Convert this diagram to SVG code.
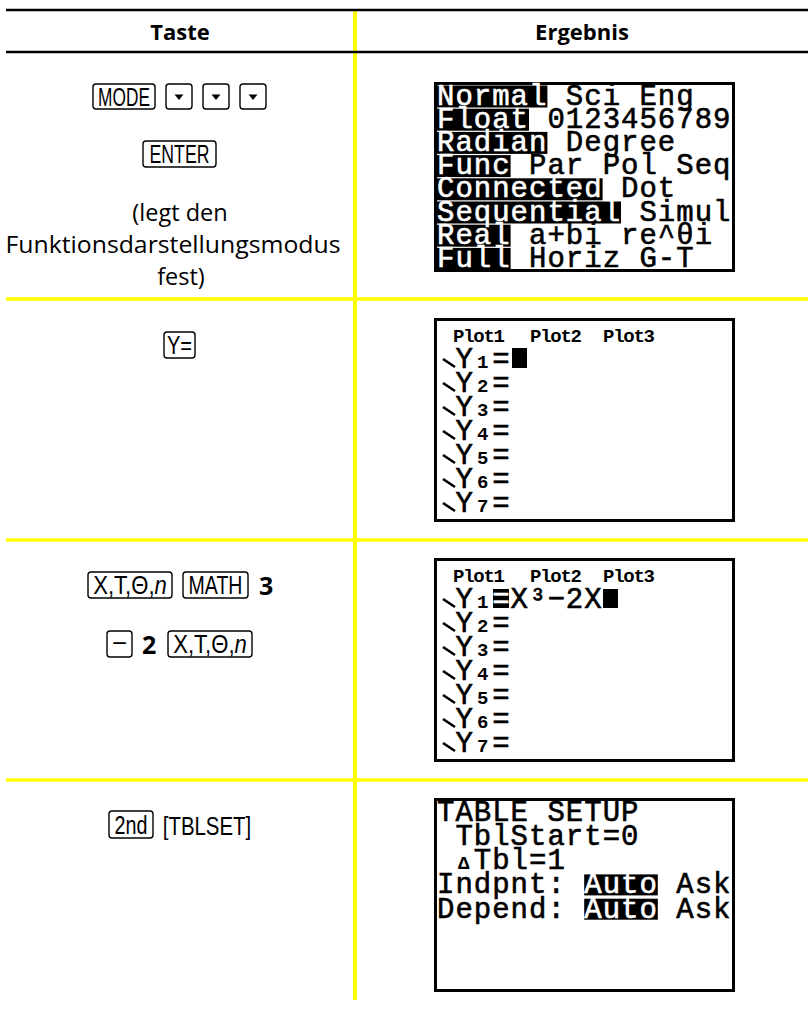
<svg xmlns="http://www.w3.org/2000/svg" width="808" height="1012" viewBox="0 0 808 1012">
<style>
.hd{font-family:"Open Sans","Noto Sans",sans-serif;font-weight:700;font-size:22px;text-anchor:middle;fill:#000}
.body{font-family:"Open Sans","Noto Sans",sans-serif;font-size:23.5px;text-anchor:middle;fill:#000}
.num{font-family:"Open Sans","Noto Sans",sans-serif;font-size:25px;font-weight:700;fill:#000}
.key{fill:#fff;stroke:#000;stroke-width:1.4}
.kt{font-family:"Liberation Sans",Arial,sans-serif;font-size:26px;text-anchor:middle;fill:#000}
.scr{fill:#fff;stroke:#000;stroke-width:3}
.lcd{font-family:"Liberation Mono","DejaVu Sans Mono",monospace;font-size:29px;letter-spacing:1px;white-space:pre;fill:#000;stroke:#000;stroke-width:0.6}
.sm{font-family:"Liberation Mono","DejaVu Sans Mono",monospace;font-size:19px;font-weight:700;fill:#000}
.inv{fill:#fff;stroke:#fff}
.hl{fill:#000}
.yl{stroke:#ffff00;stroke-width:3.5}
.yv{stroke:#ffff00;stroke-width:4}
.bl{stroke:#000;stroke-width:2.5}
.ico{fill:none;stroke:#000;stroke-width:2.6}
</style>
<rect width="808" height="1012" fill="#fff"/>
<g id="grid">
<line class="yv" x1="355" y1="10" x2="355" y2="1000"/>
<line class="yl" x1="6" y1="299" x2="808" y2="299"/>
<line class="yl" x1="6" y1="540" x2="808" y2="540"/>
<line class="yl" x1="6" y1="780" x2="808" y2="780"/>
<line class="bl" x1="6" y1="10" x2="808" y2="10"/>
<line class="bl" x1="6" y1="52" x2="808" y2="52"/>
</g>
<g id="header">
<text class="hd" x="180" y="40">Taste</text>
<text class="hd" x="582" y="40">Ergebnis</text>
</g>
<g id="keys1">
<rect class="key" x="93" y="84" width="62" height="25" rx="3"/>
<text class="kt" transform="translate(124,105.5) scale(0.665,1)">MODE</text>
<rect class="key" x="166" y="84" width="26" height="25" rx="3"/>
<polygon points="174.5,94.5 183.5,94.5 179,100" fill="#000"/>
<rect class="key" x="203" y="84" width="26" height="25" rx="3"/>
<polygon points="211.5,94.5 220.5,94.5 216,100" fill="#000"/>
<rect class="key" x="240" y="84" width="26" height="25" rx="3"/>
<polygon points="248.5,94.5 257.5,94.5 253,100" fill="#000"/>
<rect class="key" x="143" y="141" width="73" height="26" rx="3"/>
<text class="kt" transform="translate(179.5,163) scale(0.68,1)">ENTER</text>
<text class="body" x="180" y="221">(legt den</text>
<text class="body" x="173" y="253" textLength="335" lengthAdjust="spacingAndGlyphs">Funktionsdarstellungsmodus</text>
<text class="body" x="181" y="285">fest)</text>
</g>
<g id="keys2">
<rect class="key" x="164" y="332" width="31" height="26" rx="3"/>
<text class="kt" transform="translate(179.5,354) scale(0.77,1)">Y=</text>
</g>
<g id="keys3">
<rect class="key" x="88" y="572" width="84" height="26" rx="3"/>
<text class="kt" transform="translate(130,594) scale(0.85,1)">X,T,Θ,<tspan font-style="italic">n</tspan></text>
<rect class="key" x="183" y="572" width="65" height="26" rx="3"/>
<text class="kt" transform="translate(215.5,594) scale(0.75,1)">MATH</text>
<text class="num" x="259" y="595">3</text>
<rect class="key" x="107" y="631" width="25" height="26" rx="3"/>
<text class="kt" x="119.5" y="651.5">−</text>
<text class="num" x="142" y="654">2</text>
<rect class="key" x="168" y="631" width="84" height="26" rx="3"/>
<text class="kt" transform="translate(210,653) scale(0.85,1)">X,T,Θ,<tspan font-style="italic">n</tspan></text>
</g>
<g id="keys4">
<rect class="key" x="109" y="811" width="44" height="27" rx="3"/>
<text class="kt" transform="translate(131,834) scale(0.76,1)">2nd</text>
<text class="kt" transform="translate(207,835) scale(0.785,1)">[TBLSET]</text>
</g>
<g id="screen1">
<rect class="scr" x="435.5" y="83.5" width="298" height="187"/>
<rect class="hl" x="437" y="85.5" width="110.4" height="22"/>
<rect class="hl" x="437" y="108.7" width="92" height="22"/>
<rect class="hl" x="437" y="131.9" width="110.4" height="22"/>
<rect class="hl" x="437" y="155.1" width="73.6" height="22"/>
<rect class="hl" x="437" y="178.3" width="165.6" height="22"/>
<rect class="hl" x="437" y="201.5" width="184" height="22"/>
<rect class="hl" x="437" y="224.7" width="73.6" height="22"/>
<rect class="hl" x="437" y="247.9" width="73.6" height="22"/>
<text class="lcd" x="437" y="104.5"><tspan class="inv">Normal</tspan> Sci Eng</text>
<text class="lcd" x="437" y="127.7"><tspan class="inv">Float</tspan> 0123456789</text>
<text class="lcd" x="437" y="150.9"><tspan class="inv">Radian</tspan> Degree</text>
<text class="lcd" x="437" y="174.1"><tspan class="inv">Func</tspan> Par Pol Seq</text>
<text class="lcd" x="437" y="197.3"><tspan class="inv">Connected</tspan> Dot</text>
<text class="lcd" x="437" y="220.5"><tspan class="inv">Sequential</tspan> Simul</text>
<text class="lcd" x="437" y="243.7"><tspan class="inv">Real</tspan> a+bi re^θi</text>
<text class="lcd" x="437" y="266.9"><tspan class="inv">Full</tspan> Horiz G-T</text>
</g>
<g id="screen2">
<rect class="scr" x="435.5" y="319.5" width="298" height="201"/>
<text class="sm" x="453" y="342" textLength="52">Plot1</text>
<text class="sm" x="530" y="342" textLength="52">Plot2</text>
<text class="sm" x="603" y="342" textLength="52">Plot3</text>
<path class="ico" d="M443 359L455 367M443 383L455 391M443 407L455 415M443 431L455 439M443 455L455 463M443 479L455 487M443 503L455 511"/>
<text class="lcd" x="455.4" y="368">Y</text><text class="sm" x="477" y="368">1</text><text class="lcd" x="492.2" y="368">=</text>
<rect class="hl" x="512" y="348" width="15" height="20"/>
<text class="lcd" x="455.4" y="392">Y</text><text class="sm" x="477" y="392">2</text><text class="lcd" x="492.2" y="392">=</text>
<text class="lcd" x="455.4" y="416">Y</text><text class="sm" x="477" y="416">3</text><text class="lcd" x="492.2" y="416">=</text>
<text class="lcd" x="455.4" y="440">Y</text><text class="sm" x="477" y="440">4</text><text class="lcd" x="492.2" y="440">=</text>
<text class="lcd" x="455.4" y="464">Y</text><text class="sm" x="477" y="464">5</text><text class="lcd" x="492.2" y="464">=</text>
<text class="lcd" x="455.4" y="488">Y</text><text class="sm" x="477" y="488">6</text><text class="lcd" x="492.2" y="488">=</text>
<text class="lcd" x="455.4" y="512">Y</text><text class="sm" x="477" y="512">7</text><text class="lcd" x="492.2" y="512">=</text>
</g>
<g id="screen3">
<rect class="scr" x="435.5" y="559.5" width="298" height="201"/>
<text class="sm" x="453" y="582" textLength="52">Plot1</text>
<text class="sm" x="530" y="582" textLength="52">Plot2</text>
<text class="sm" x="603" y="582" textLength="52">Plot3</text>
<path class="ico" d="M443 599L455 607M443 623L455 631M443 647L455 655M443 671L455 679M443 695L455 703M443 719L455 727M443 743L455 751"/>
<text class="lcd" x="455.4" y="608">Y</text><text class="sm" x="477" y="608">1</text>
<rect class="hl" x="493" y="589" width="16" height="19"/>
<text class="lcd inv" x="492.2" y="608">=</text>
<text class="lcd" x="510.6" y="608">X³−2X</text>
<rect class="hl" x="603" y="589" width="15" height="19"/>
<text class="lcd" x="455.4" y="632">Y</text><text class="sm" x="477" y="632">2</text><text class="lcd" x="492.2" y="632">=</text>
<text class="lcd" x="455.4" y="656">Y</text><text class="sm" x="477" y="656">3</text><text class="lcd" x="492.2" y="656">=</text>
<text class="lcd" x="455.4" y="680">Y</text><text class="sm" x="477" y="680">4</text><text class="lcd" x="492.2" y="680">=</text>
<text class="lcd" x="455.4" y="704">Y</text><text class="sm" x="477" y="704">5</text><text class="lcd" x="492.2" y="704">=</text>
<text class="lcd" x="455.4" y="728">Y</text><text class="sm" x="477" y="728">6</text><text class="lcd" x="492.2" y="728">=</text>
<text class="lcd" x="455.4" y="752">Y</text><text class="sm" x="477" y="752">7</text><text class="lcd" x="492.2" y="752">=</text>
</g>
<g id="screen4">
<rect class="scr" x="435.5" y="799.5" width="298" height="191"/>
<rect class="hl" x="584.2" y="874.4" width="73.6" height="21"/>
<rect class="hl" x="584.2" y="898.7" width="73.6" height="21"/>
<text class="lcd" x="437" y="820.5">TABLE SETUP</text>
<text class="lcd" x="437" y="844.8"> TblStart=0</text>
<text class="sm" x="458" y="869">Δ</text>
<text class="lcd" x="473.8" y="869">Tbl=1</text>
<text class="lcd" x="437" y="893.4">Indpnt: <tspan class="inv">Auto</tspan> Ask</text>
<text class="lcd" x="437" y="917.7">Depend: <tspan class="inv">Auto</tspan> Ask</text>
</g>
</svg>
